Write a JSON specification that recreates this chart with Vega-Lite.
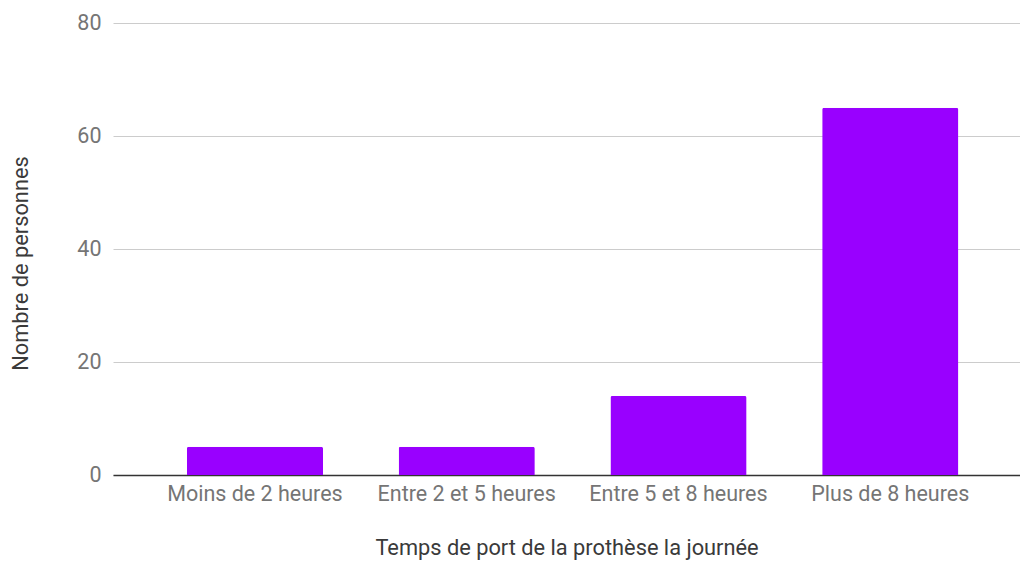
{
  "$schema": "https://vega.github.io/schema/vega-lite/v6.json",
  "width": 907,
  "height": 452,
  "autosize": {"type": "none"},
  "padding": {"left": 113, "top": 23, "right": 0, "bottom": 87},
  "background": "white",
  "config": {"view": {"stroke": null}, "font": "Roboto"},
  "data": {"values": [
    {"cat": "Moins de 2 heures", "n": 5},
    {"cat": "Entre 2 et 5 heures", "n": 5},
    {"cat": "Entre 5 et 8 heures", "n": 14},
    {"cat": "Plus de 8 heures", "n": 65}
  ]},
  "mark": {"type": "bar", "color": "#9900ff", "cornerRadiusTopLeft": 2, "cornerRadiusTopRight": 2},
  "encoding": {
    "x": {
      "field": "cat", "type": "nominal", "sort": null,
      "scale": {"paddingInner": 0.357, "paddingOuter": 0.32, "align": 0.545},
      "axis": {
        "title": "Temps de port de la prothèse la journée",
        "titleFont": "Roboto", "titleFontSize": 21.8, "titleFontWeight": "normal", "titleColor": "#3a3a3a",
        "titlePadding": 33,
        "labelFont": "Roboto", "labelFontSize": 21.5, "labelColor": "#757575", "labelPadding": 8,
        "labelAngle": 0,
        "ticks": false, "domainColor": "#333333", "domainWidth": 1.5, "grid": false
      }
    },
    "y": {
      "field": "n", "type": "quantitative",
      "scale": {"domain": [0, 80]},
      "axis": {
        "title": "Nombre de personnes",
        "titleFont": "Roboto", "titleFontSize": 21.8, "titleFontWeight": "normal", "titleColor": "#3a3a3a",
        "titlePadding": 44,
        "titleY": 240,
        "values": [0, 20, 40, 60, 80],
        "labelFont": "Roboto", "labelFontSize": 21.5, "labelColor": "#757575", "labelPadding": 12,
        "ticks": false, "domain": false, "gridColor": "#cccccc", "gridWidth": 1
      }
    }
  }
}
